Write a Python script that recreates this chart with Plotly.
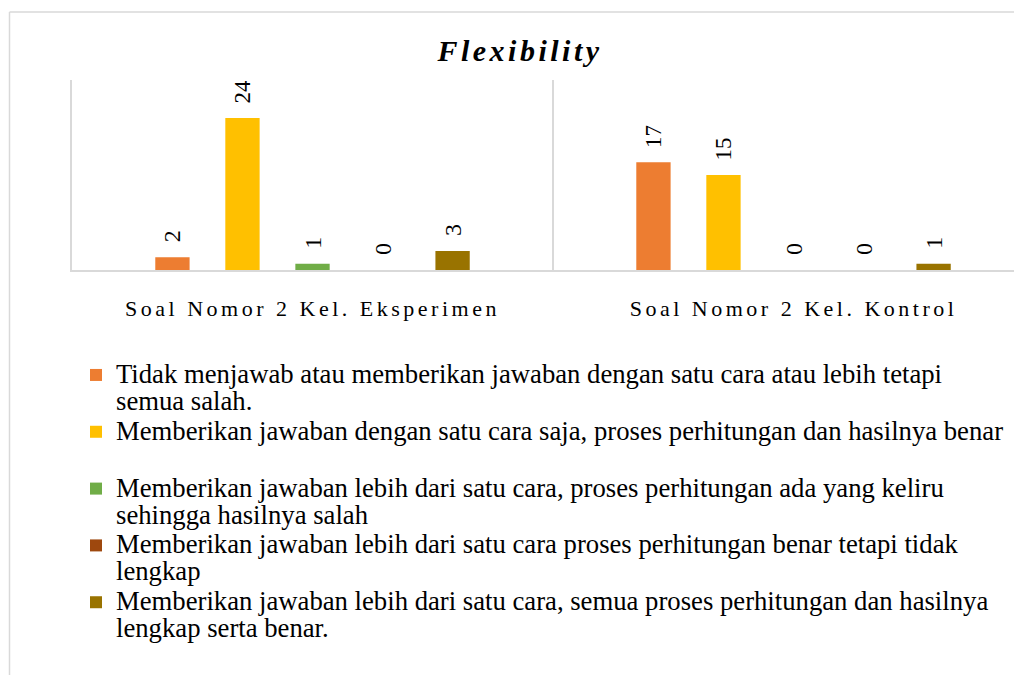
import plotly.graph_objects as go

categories = ["Soal Nomor 2 Kel. Eksperimen", "Soal Nomor 2 Kel. Kontrol"]

series_names = [
    "Tidak menjawab atau memberikan jawaban dengan satu cara atau lebih tetapi<br>semua salah.",
    "Memberikan jawaban dengan satu cara saja, proses perhitungan dan hasilnya benar<br> ",
    "Memberikan jawaban lebih dari satu cara, proses perhitungan ada yang keliru<br>sehingga hasilnya salah",
    "Memberikan jawaban lebih dari satu cara proses perhitungan benar tetapi tidak<br>lengkap",
    "Memberikan jawaban lebih dari satu cara, semua proses perhitungan dan hasilnya<br>lengkap serta benar.",
]

values_s1 = [2, 17]
values_s2 = [24, 15]
values_s3 = [1, 0]
values_s4 = [0, 0]
values_s5 = [3, 1]

series_values = [values_s1, values_s2, values_s3, values_s4, values_s5]
colors = ["#ED7D31", "#FFC000", "#70AD47", "#9E480E", "#997300"]

title_text = "Flexibility"

SERIF = "Liberation Serif, Times New Roman, serif"

# figure is 1014x667 (page body adds an 8px margin); plot area in figure pixels
FIG_W, FIG_H = 1014, 667
PX_L, PX_R, PY_T, PY_B = 64, 1014, 72, 262
px_to_x = lambda px: (px - PX_L) / (PX_R - PX_L)
py_to_y = lambda py: (PY_B - py) / (PY_B - PY_T)


def styled(text, style):
    return "<br>".join(f'<span style="{style}">{ln}</span>' for ln in text.split("<br>"))


label_font = dict(family=SERIF, size=24, color="#000000")

fig = go.Figure()
for name, vals, col in zip(series_names, series_values, colors):
    fig.add_trace(go.Bar(
        x=categories,
        y=vals,
        name=styled(name, "font-size:26.7px"),
        marker=dict(color=col, line=dict(width=0)),
        text=[str(v) for v in vals],
        texttemplate="\u2002%{text}",
        textposition="outside",
        textangle=-90,
        textfont=label_font,
        outsidetextfont=label_font,
        insidetextfont=label_font,
        cliponaxis=False,
        hoverinfo="skip",
    ))

fig.update_layout(
    width=FIG_W,
    height=FIG_H,
    autosize=False,
    margin=dict(l=PX_L, r=FIG_W - PX_R, t=PY_T, b=FIG_H - PY_B),
    paper_bgcolor="white",
    plot_bgcolor="white",
    barmode="group",
    bargap=0.272,
    bargroupgap=0.51,
    uniformtext=dict(mode=False),
    font=dict(family=SERIF, color="#000000"),
    title=dict(
        text=f'<span style="letter-spacing:3.5px">{title_text}</span>',
        font=dict(family=SERIF, size=30, color="#000000", weight="bold", style="italic"),
        x=512 / FIG_W, xref="container", xanchor="center",
        y=1 - 42 / FIG_H, yref="container", yanchor="middle",
    ),
    xaxis=dict(
        type="category",
        range=[-0.5, 1.475],
        tickmode="array",
        tickvals=categories,
        ticktext=[f'<span style="letter-spacing:3.5px">{c}</span>' for c in categories],
        tickfont=dict(family=SERIF, size=22, color="#000000"),
        tickangle=0,
        tickson="boundaries",
        ticks="",
        showgrid=True,
        gridcolor="#D9D9D9",
        gridwidth=1.5,
        showline=True,
        linecolor="#D9D9D9",
        linewidth=1.5,
        ticklabelstandoff=18,
        automargin=False,
        fixedrange=True,
    ),
    yaxis=dict(
        range=[0, 30],
        showticklabels=False,
        showgrid=False,
        zeroline=False,
        showline=True,
        linecolor="#D9D9D9",
        linewidth=1.5,
        ticks="",
        automargin=False,
        fixedrange=True,
    ),
    legend=dict(
        orientation="v",
        xref="paper", x=px_to_x(68), xanchor="left",
        yref="paper", y=py_to_y(347), yanchor="top",
        font=dict(family=SERIF, size=20.7, color="#000000"),
        valign="top",
        bgcolor="rgba(0,0,0,0)",
        traceorder="normal",
    ),
    showlegend=True,
)

# outer chart border (top and left edges visible)
fig.add_shape(type="line", xref="paper", yref="paper",
              x0=px_to_x(1.5), x1=px_to_x(1030), y0=py_to_y(4), y1=py_to_y(4),
              line=dict(color="#D9D9D9", width=1.5))
fig.add_shape(type="line", xref="paper", yref="paper",
              x0=px_to_x(1.5), x1=px_to_x(1.5), y0=py_to_y(4), y1=py_to_y(690),
              line=dict(color="#D9D9D9", width=1.5))

fig.write_html("out.html")
